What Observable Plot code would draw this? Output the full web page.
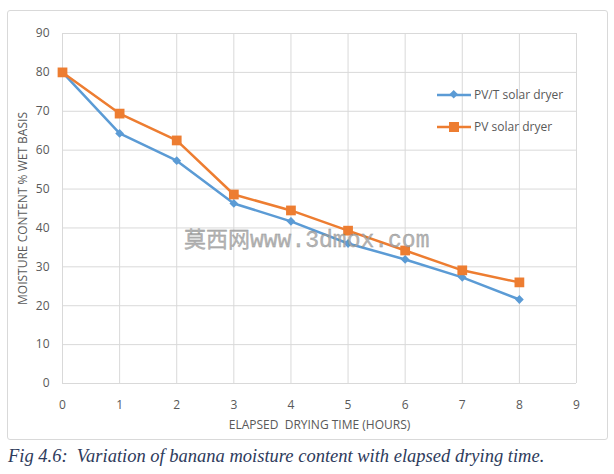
<!DOCTYPE html>
<html><head><meta charset="utf-8">
<script src="https://cdn.jsdelivr.net/npm/d3@7"></script>
<script src="https://cdn.jsdelivr.net/npm/@observablehq/plot@0.6"></script>
<style>
body{margin:0;background:#fff;font-family:"Open Sans",sans-serif;}
#wrap{position:relative;width:614px;height:474px;overflow:hidden;background:#fff}
#frame{position:absolute;left:7px;top:10px;width:601px;height:430px;border:1px solid #d9d9d9;border-radius:3px;box-sizing:border-box}
#chart{position:absolute;left:0;top:0}
svg text{white-space:pre}
.leg{position:absolute;left:437px;font-size:12px;color:#595959;display:flex;align-items:center;white-space:nowrap}
.leg svg{margin-right:3px}
#wm{position:absolute;left:184px;top:221px;font-size:22px;color:#a8a8a8;white-space:nowrap;-webkit-text-stroke:0.3px #808080;opacity:0.85}
#wm .cn{font-family:"Noto Sans CJK SC";}
#wm .en{font-family:"Liberation Mono";font-size:23px}
#cap{position:absolute;left:8px;top:446px;font-family:"Liberation Serif",serif;font-style:italic;font-size:18.5px;color:#2e3b5c;white-space:pre}
</style></head>
<body>
<div id="wrap">
<div id="frame"></div>
<div id="chart"></div>
<div class="leg" style="top:86px"><svg width="34" height="12"><line x1="0" y1="6" x2="34" y2="6" stroke="#5b9bd5" stroke-width="2.5"/><rect x="13" y="2" width="6" height="6" fill="#5b9bd5" transform="rotate(45 16 6)"/></svg>PV/T solar dryer</div>
<div class="leg" style="top:118px"><svg width="34" height="12"><line x1="0" y1="6" x2="34" y2="6" stroke="#ed7d31" stroke-width="2.5"/><rect x="12" y="1" width="10" height="10" fill="#ed7d31"/></svg>PV solar dryer</div>
<div id="wm"><span class="cn">莫西网</span><span class="en">www.3dmox.com</span></div>
<div id="cap">Fig 4.6:  Variation of banana moisture content with elapsed drying time.</div>
</div>
<script>
const hours = [0, 1, 2, 3, 4, 5, 6, 7, 8];
const pvtMoisture = [80, 64.3, 57.3, 46.3, 41.7, 36, 31.9, 27.3, 21.6];
const pvMoisture = [80, 69.4, 62.5, 48.6, 44.5, 39.3, 34.2, 29.1, 26];
const xTicks = [0, 1, 2, 3, 4, 5, 6, 7, 8, 9];
const yTicks = [0, 10, 20, 30, 40, 50, 60, 70, 80, 90];
const seriesNames = ["PV/T solar dryer", "PV solar dryer"];

const pvt = hours.map((h, i) => ({h, m: pvtMoisture[i]}));
const pv = hours.map((h, i) => ({h, m: pvMoisture[i]}));

const chart = Plot.plot({
  width: 614,
  height: 445,
  marginLeft: 62,
  marginRight: 38,
  marginTop: 33,
  marginBottom: 62,
  style: {fontFamily: "Open Sans, sans-serif", color: "#595959", background: "transparent"},
  x: {domain: [0, 9]},
  y: {domain: [0, 90]},
  marks: [
    Plot.gridX(xTicks, {stroke: "#d9d9d9", strokeOpacity: 1}),
    Plot.gridY(yTicks, {stroke: "#d9d9d9", strokeOpacity: 1}),
    Plot.axisX(xTicks, {tickSize: 0, tickPadding: 17, fontSize: 12, label: "ELAPSED  DRYING TIME (HOURS)", labelAnchor: "center", labelOffset: 45, labelArrow: "none"}),
    Plot.axisY(yTicks, {tickSize: 0, tickPadding: 13, fontSize: 12, label: "MOISTURE CONTENT % WET BASIS", labelAnchor: "center", labelOffset: 44, labelArrow: "none"}),
    Plot.line(pvt, {x: "h", y: "m", stroke: "#5b9bd5", strokeWidth: 2.5}),
    Plot.dot(pvt, {x: "h", y: "m", symbol: "square", r: 3.5, rotate: 45, fill: "#5b9bd5"}),
    Plot.line(pv, {x: "h", y: "m", stroke: "#ed7d31", strokeWidth: 2.5}),
    Plot.dot(pv, {x: "h", y: "m", symbol: "square", r: 5.5, fill: "#ed7d31"})
  ]
});
chart.querySelectorAll("[aria-label='x-axis label'] text, [aria-label='y-axis label'] text").forEach(t => t.setAttribute("font-size", "12"));
document.getElementById("chart").appendChild(chart);
</script>
</body></html>
